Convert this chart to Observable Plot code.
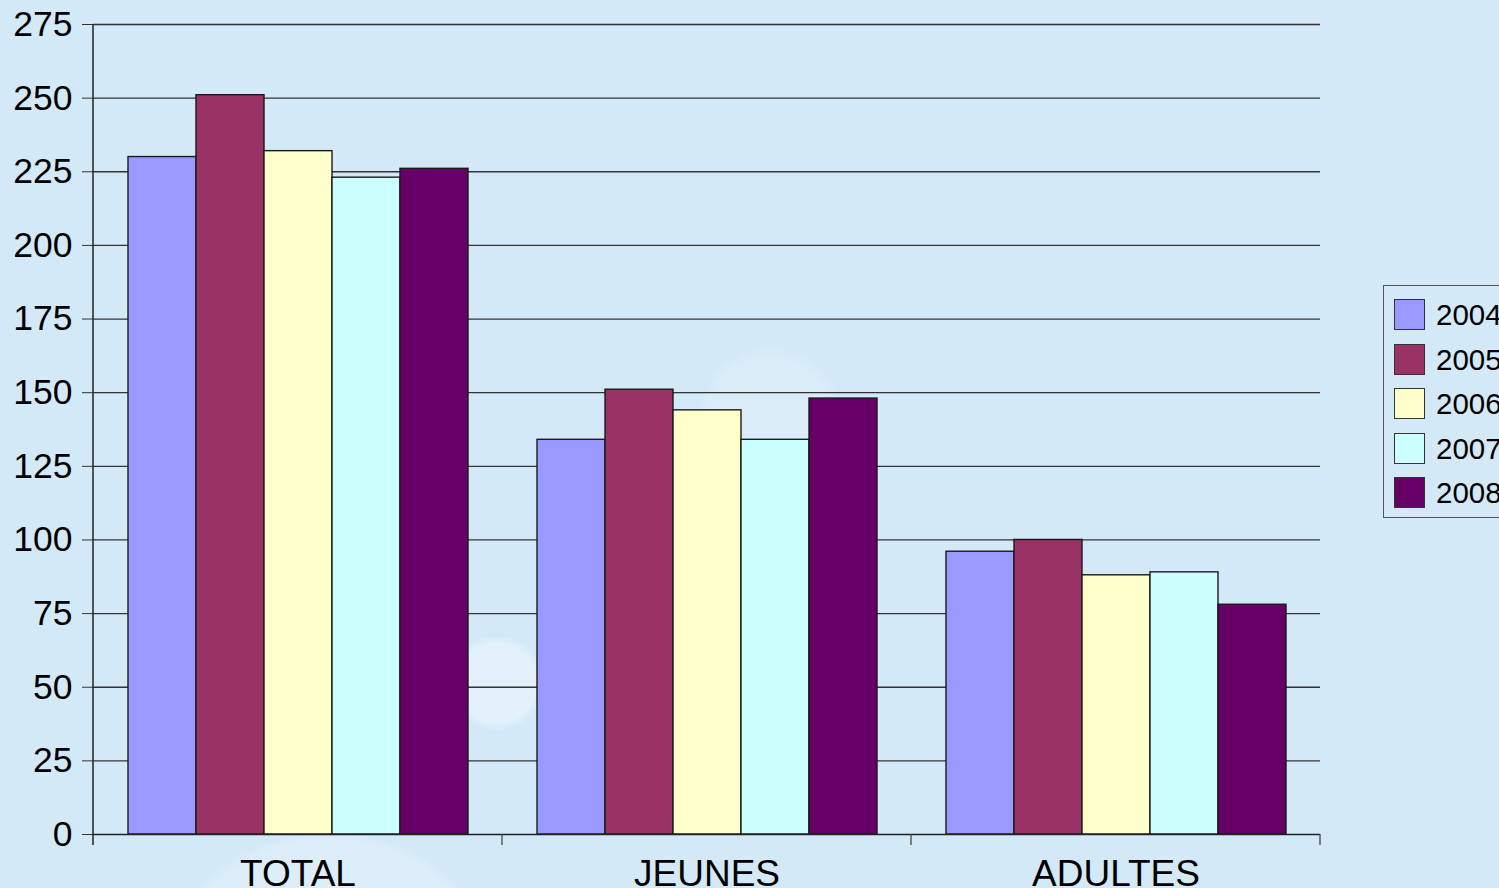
<!DOCTYPE html>
<html><head><meta charset="utf-8">
<script src="https://cdn.jsdelivr.net/npm/d3@7"></script>
<script src="https://cdn.jsdelivr.net/npm/@observablehq/plot@0.6"></script>
<style>
html,body{margin:0;padding:0;overflow:hidden;width:1499px;height:888px;background:#d3e9f8}
#chart{position:relative;width:1499px;height:888px;
 background:
  radial-gradient(circle at 497px 683px, rgba(255,255,255,0.35) 0, rgba(255,255,255,0.35) 40px, rgba(255,255,255,0) 48px),
  radial-gradient(circle at 770px 420px, rgba(255,255,255,0.18) 0, rgba(255,255,255,0.18) 60px, rgba(255,255,255,0) 75px),
  radial-gradient(circle at 330px 1010px, rgba(255,255,255,0.22) 0, rgba(255,255,255,0.22) 170px, rgba(255,255,255,0) 180px),
  #d3e9f8;}
#legend{position:absolute;left:1383px;top:285px;width:150px;height:233px;border:1px solid #555;box-sizing:border-box;font-family:"Liberation Sans",Arial,sans-serif;font-size:29.5px;color:#000}
.item{position:absolute;left:10px;height:31px;}
.sw{position:absolute;left:0;top:0;width:31px;height:31px;box-sizing:border-box;border:1.5px solid #333}
.lab{position:absolute;left:42px;top:0;line-height:31px;white-space:nowrap}
svg{position:absolute;left:0;top:0}
</style></head><body><div id="chart"></div>
<script>
const categories = ["TOTAL", "JEUNES", "ADULTES"];
const years = ["2004", "2005", "2006", "2007", "2008"];
const colors = ["#9999ff", "#993366", "#ffffcc", "#ccffff", "#660066"];
const valuesTOTAL = [230, 251, 232, 223, 226];
const valuesJEUNES = [134, 151, 144, 134, 148];
const valuesADULTES = [96, 100, 88, 89, 78];
const yTicks = [0, 25, 50, 75, 100, 125, 150, 175, 200, 225, 250, 275];

const seriesByCat = [valuesTOTAL, valuesJEUNES, valuesADULTES];
const data = [];
categories.forEach((c, i) => years.forEach((y, j) => data.push({category: c, year: y, value: seriesByCat[i][j]})));

const font = "Liberation Sans, Arial, sans-serif";
const plot = Plot.plot({
  width: 1499, height: 888,
  marginLeft: 92, marginRight: 178, marginTop: 24, marginBottom: 54,
  style: {background: "transparent", fontFamily: font, fontSize: "35px", color: "#000", overflow: "visible"},
  fx: {domain: categories, padding: 0, label: null},
  x: {domain: years, paddingInner: 0, paddingOuter: 0.5, axis: null},
  y: {domain: [0, 275], label: null},
  color: {domain: years, range: colors},
  marks: [
    Plot.ruleY(yTicks.filter(d => d > 0), {stroke: "#333", strokeWidth: 1.3}),
    Plot.barY(data, {fx: "category", x: "year", y: "value", fill: "year", stroke: "#1a1a1a", strokeWidth: 1.4, inset: 0}),
    Plot.ruleY([0], {stroke: "#222", strokeWidth: 1.5}),
    Plot.axisY({ticks: yTicks, tickSize: 11, tickPadding: 10, label: null, tickFormat: d => String(d), stroke: "#333", fontSize: 35.5}),
    Plot.axisFx({anchor: "bottom", tickSize: 0, tickPadding: 25, label: null, fontSize: 37})
  ]
});
document.getElementById("chart").appendChild(plot);

// y axis line and category separator ticks, positioned via the plot's own scales
const fx = plot.scale("fx"), ys = plot.scale("y");
const svg = d3.select(plot);
const y0 = ys.apply(0), yTop = ys.apply(275);
const edges = categories.map(c => fx.apply(c)).concat([fx.apply(categories[categories.length - 1]) + fx.bandwidth]);
svg.append("line").attr("x1", edges[0]).attr("x2", edges[0]).attr("y1", yTop).attr("y2", y0 + 11)
  .attr("stroke", "#222").attr("stroke-width", 1.5);
edges.slice(1).forEach(x => svg.append("line").attr("x1", x).attr("x2", x).attr("y1", y0).attr("y2", y0 + 11)
  .attr("stroke", "#444").attr("stroke-width", 1.3));

// legend
const lg = d3.select("#chart").append("div").attr("id", "legend");
years.forEach((y, i) => {
  const it = lg.append("div").attr("class", "item").style("top", (13 + i * 44.5) + "px");
  it.append("div").attr("class", "sw").style("background", colors[i]);
  it.append("div").attr("class", "lab").text(y);
});
</script></body></html>
